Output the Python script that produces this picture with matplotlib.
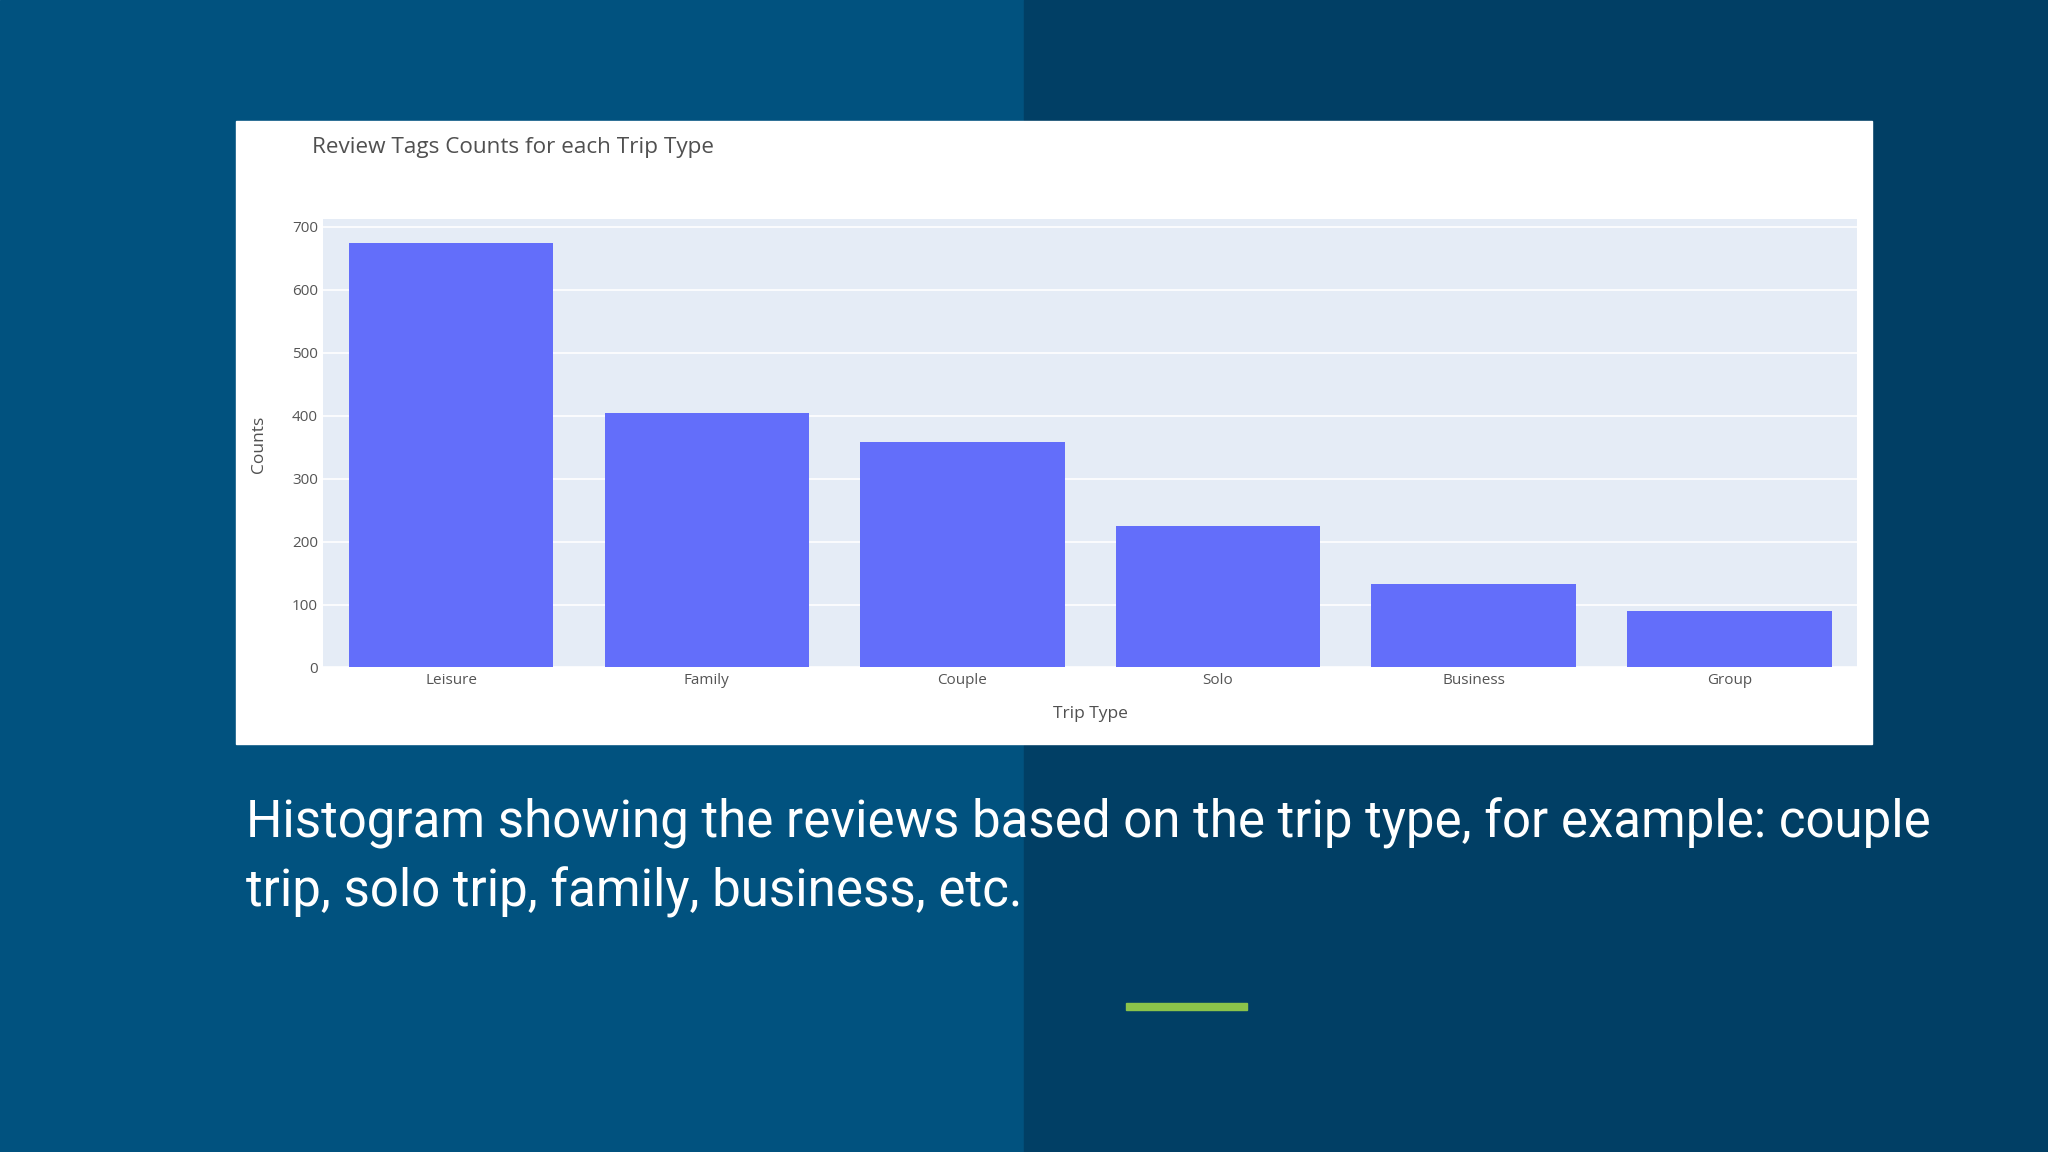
import matplotlib.pyplot as plt
from matplotlib.patches import Rectangle

# data
trip_types = ["Leisure", "Family", "Couple", "Solo", "Business", "Group"]
counts = [675, 405, 359, 224, 133, 89]
y_ticks = [0, 100, 200, 300, 400, 500, 600, 700]

title = "Review Tags Counts for each Trip Type"
caption1 = "Histogram showing the reviews based on the trip type, for example: couple"
caption2 = "trip, solo trip, family, business, etc."

W, H = 1568.0, 882.0  # layout measured on a 1568x882 copy

fig = plt.figure(figsize=(20.48, 11.52), dpi=100)

# two-tone slide background
fig.patches.append(Rectangle((0, 0), 0.5, 1, transform=fig.transFigure,
                             color="#01527f", zorder=-3))
fig.patches.append(Rectangle((0.5, 0), 0.5, 1, transform=fig.transFigure,
                             color="#013f65", zorder=-3))
# white card behind the chart
fig.patches.append(Rectangle((181 / W, 1 - 570 / H), (1433 - 181) / W, (570 - 93) / H,
                             transform=fig.transFigure, color="white", zorder=-2))
# green accent bar
fig.patches.append(Rectangle((862 / W, 1 - 773 / H), (955 - 862) / W, 5 / H,
                             transform=fig.transFigure, color="#8bc34a", zorder=-1))

ax = fig.add_axes([247.6 / W, 1 - 511 / H, (1421.9 - 247.6) / W, (511 - 168) / H])
ax.set_facecolor("#E5ECF6")
x = range(len(trip_types))
ax.bar(x, counts, width=0.8, color="#636EFA", linewidth=0, zorder=3)
ax.set_xlim(-0.5, len(trip_types) - 0.5)
ax.set_ylim(0, 712)
ax.set_yticks(y_ticks)
ax.set_xticks(list(x))
ax.set_xticklabels(trip_types)
ax.grid(axis="y", color="white", linewidth=1.2, zorder=0)
ax.set_axisbelow(True)
for s in ax.spines.values():
    s.set_visible(False)
ax.tick_params(length=0, labelsize=11, colors="#555555", pad=4)
for lab in ax.get_xticklabels() + ax.get_yticklabels():
    lab.set_family("Open Sans")

fig.text(239 / W, 1 - 113 / H, title, fontsize=16.2, color="#505050",
         family="Open Sans", va="center", ha="left")
fig.text(835 / W, 1 - 547 / H, "Trip Type", fontsize=12.5, color="#505050",
         family="Open Sans", va="center", ha="center")
fig.text(198 / W, 1 - 340 / H, "Counts", fontsize=12.5, color="#505050",
         family="Open Sans", va="center", ha="center", rotation=90)

fig.text(188 / W, 1 - 630 / H, caption1, fontsize=36.7, color="white",
         family="Roboto", va="center", ha="left")
fig.text(188 / W, 1 - 683 / H, caption2, fontsize=36.7, color="white",
         family="Roboto", va="center", ha="left")

plt.savefig("out.png", dpi=100)
